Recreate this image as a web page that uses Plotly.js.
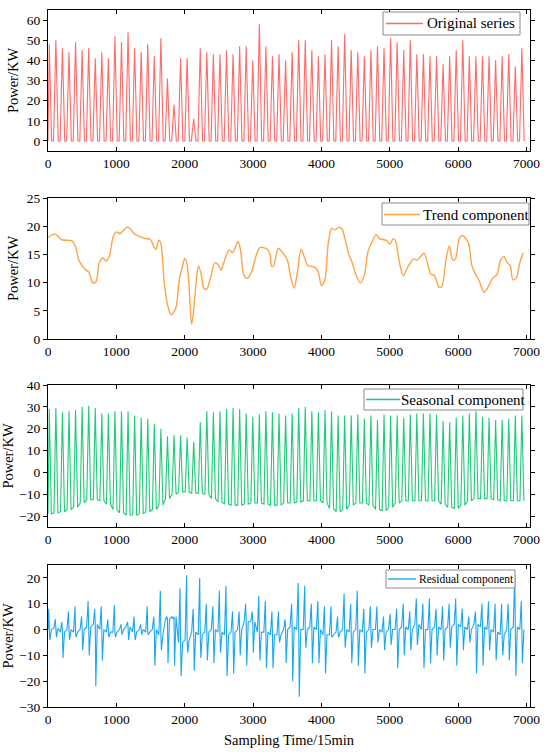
<!DOCTYPE html>
<html>
<head>
<meta charset="utf-8">
<script src="https://cdn.plot.ly/plotly-3.0.1.min.js"></script>
<style>html,body{margin:0;padding:0;background:#fff;}#chart{width:550px;height:756px;}</style>
</head>
<body>
<div id="chart"></div>
<script>
// ---- Data (one value per daily cycle, 96 samples/day) ----
const seriesNames = ['Original series', 'Trend component', 'Seasonal component', 'Residual component'];
const seriesColors = ['#ff6a6a', '#ffa347', '#1ecb78', '#1aa7f2'];

const originalPeaks = [48,50,46,44,49,45,46,41,44,41,52,49,54,46,44,48,42,51,31,18,41,41,11,46,44,43,43,45,43,47,47,40,58,47,42,43,40,44,50,50,45,42,43,50,47,53,45,44,42,45,47,46,51,49,45,50,43,43,42,42,38,42,45,50,42,42,42,42,40,42,43,37,46];

const trendX = [0,100,200,300,350,400,450,500,550,600,650,700,750,800,850,900,950,1000,1050,1100,1150,1200,1250,1300,1400,1500,1550,1580,1620,1650,1700,1750,1800,1850,1880,1920,1970,2000,2030,2060,2100,2130,2170,2200,2240,2280,2320,2380,2440,2500,2530,2570,2650,2700,2780,2820,2850,2880,2920,2980,3050,3100,3200,3250,3270,3300,3330,3370,3420,3500,3550,3600,3650,3700,3750,3800,3850,3900,3950,4000,4050,4100,4150,4200,4250,4300,4350,4400,4450,4500,4570,4630,4680,4750,4800,4850,4950,5000,5050,5080,5150,5200,5250,5300,5350,5400,5500,5550,5600,5650,5720,5760,5820,5870,5920,5960,6020,6070,6150,6200,6250,6300,6380,6450,6500,6570,6620,6670,6720,6760,6800,6850,6900,6950];
const trendY = [18.0,18.6,17.6,17.5,17.4,16.5,14.0,13.0,12.3,11.8,10.0,10.1,13.5,14.4,13.8,14.8,18.0,19.0,18.7,19.2,19.8,19.6,18.8,18.4,17.9,17.6,16.3,15.9,17.5,17.0,10.0,6.0,4.3,5.0,6.0,10.5,13.0,14.3,13.5,10.0,2.6,5.0,10.5,13.0,11.5,9.0,8.8,11.0,13.5,13.0,12.2,13.5,15.8,15.3,17.3,15.5,12.0,11.0,10.8,12.0,15.0,16.2,16.0,15.0,12.9,13.0,14.5,16.1,15.5,14.0,11.0,9.0,12.0,15.9,14.5,13.0,12.9,12.7,12.0,9.5,10.5,17.0,19.6,19.4,19.8,19.5,17.5,15.0,13.5,11.5,9.9,11.5,15.5,17.5,18.5,17.8,17.5,16.8,17.8,17.5,13.0,11.2,12.5,13.5,14.2,14.0,15.2,13.5,11.5,11.3,9.2,9.3,14.0,16.5,14.0,14.2,18.0,18.3,17.0,13.0,11.5,10.5,8.3,9.5,10.7,11.5,14.0,14.6,13.5,13.0,10.5,10.8,13.5,15.3];

const seasonalPeaks = [29,29.5,27.5,28,28.5,30,30.5,29.5,27,27,28,28,28,26,25,24.5,22,20,16.5,17,17,16,14,23,28,27.5,28,29,29.5,29,27,25.5,26.5,28,27.5,27,26,27,29.5,30,28,27.5,28.5,28,26,26,26,26.5,24.5,26,24,26.5,26,26,25,26.5,27,27,27,26.5,23.5,23,25,26,27,28,25.5,25,24,24,24.5,26,26];
const seasonalTroughs = [-19,-18.5,-18,-17,-16,-14,-12.5,-12.5,-13,-14.5,-17,-18.5,-19.5,-19.5,-19,-18,-17,-15,-12,-10,-9,-9,-9.5,-9.5,-10,-12,-13.5,-14.5,-15,-15,-14.5,-14,-14,-14.5,-15,-15,-14,-14,-13.5,-13,-13,-13,-14,-16.5,-18,-17,-15,-14,-14,-15,-17,-17.5,-16,-14,-13,-13,-13,-13,-13,-13,-14.5,-16,-16.5,-15,-13,-12,-12,-12,-12.5,-13,-13,-13,-13];

const residualHigh = [8,4,3,7,9,5,11,8,9,4,9.5,2,3,5,2,9,5,15,5,4,16,21,8,20,10,9,15,17,7,7,10,7,13,11,7,7,4,10,18,17,10,11,9,9,5,14,10,15,8,9,9,5,6,8,10,7,12,10,12,8,9,10,12,8,5,7,10,11,10,10,10,21,11];
const residualLow = [-4,-3,-11,-4,-3,-8,-10,-22,-12,-3,-3,-2,-4,-4,-2,-2,-14,-8,-13,-14,-18,-9,-16,-11,-12,-13,-9,-18,-17,-10,-14,-9,-12,-15,-15,-5,-13,-20,-26,-7,-13,-13,-17,-3,-3,-7,-13,-14,-17,-7,-5,-8,-6,-15,-10,-8,-6,-15,-13,-10,-12,-7,-14,-8,-5,-17,-14,-8,-12,-10,-12,-18,-13];
const residualBase = [0,0.5,-1,0,-1,0,1,2,0,-1,-1,0,1,-1,0,-1,0,-2,4,5,-5,-4,-1,-2,-1,0,-1,-2,-1,0,3,3,-1,-1,-2,-2,0,1,0,0,1,0,-2,-2,-1,0,-1,0,-1,0,0,-1,0,0,1,0,2,0,0,1,0,1,2,1,0,2,1,0,-1,-2,0,1,0];

const xTicks = [0,1000,2000,3000,4000,5000,6000,7000];

// ---- Build traces (sample positions: cycle k centred at 19 + 96k) ----
const cycleStart = 19, cycleLen = 96;
function center(k){ return cycleStart + cycleLen * k; }

const ox = [0], oy = [0];
originalPeaks.forEach((p, k) => {
  const c = center(k);
  if (c - 34 > 0) { ox.push(c - 34); oy.push(0); }
  ox.push(c); oy.push(p);
  ox.push(c + 34); oy.push(0);
});

const sx = [], sy = [];
seasonalPeaks.forEach((p, k) => {
  const c = center(k);
  sx.push(Math.max(0, c - 28)); sy.push(seasonalTroughs[k]);
  sx.push(c); sy.push(p);
  sx.push(c + 30); sy.push(seasonalTroughs[k]);
});

const rx = [], ry = [];
residualHigh.forEach((h, k) => {
  const c = center(k);
  rx.push(Math.max(0, c - 30)); ry.push(residualBase[k]);
  rx.push(c - 8); ry.push(h);
  rx.push(c); ry.push(residualBase[k]);
  rx.push(c + 8); ry.push(residualLow[k]);
  rx.push(c + 30); ry.push(residualBase[k]);
});

const FONT = 'Liberation Serif, Times New Roman, serif';

const traces = [
  {x: ox, y: oy, type: 'scatter', mode: 'lines', name: seriesNames[0],
   line: {color: seriesColors[0], width: 1.1, simplify: false}, xaxis: 'x', yaxis: 'y'},
  {x: trendX, y: trendY, type: 'scatter', mode: 'lines', name: seriesNames[1],
   line: {color: seriesColors[1], width: 1.4, shape: 'spline', smoothing: 0.8}, xaxis: 'x2', yaxis: 'y2'},
  {x: sx, y: sy, type: 'scatter', mode: 'lines', name: seriesNames[2],
   line: {color: seriesColors[2], width: 1.1, simplify: false}, xaxis: 'x3', yaxis: 'y3'},
  {x: rx, y: ry, type: 'scatter', mode: 'lines', name: seriesNames[3],
   line: {color: seriesColors[3], width: 1.1, simplify: false}, xaxis: 'x4', yaxis: 'y4'}
];

function xa(anchor, title) {
  const a = {
    anchor: anchor, domain: [0, 1], range: [0, 7050],
    tickvals: xTicks, ticktext: xTicks.map(String),
    ticks: 'inside', ticklen: 4, tickcolor: '#000',
    showline: true, linecolor: '#000', linewidth: 1, mirror: 'ticks',
    showgrid: false, zeroline: false,
    tickfont: {family: FONT, size: 13.5, color: '#000'}, automargin: false
  };
  if (title) a.title = {text: title, font: {family: FONT, size: 14.5, color: '#000'}, standoff: 8};
  return a;
}
function ya(anchor, dom, range, dtick, tick0) {
  return {
    anchor: anchor, domain: dom, range: range, dtick: dtick, tick0: tick0,
    ticks: 'outside', ticklen: 4, tickcolor: '#000',
    showline: true, linecolor: '#000', linewidth: 1, mirror: 'ticks',
    showgrid: false, zeroline: false,
    tickfont: {family: FONT, size: 13.5, color: '#000'}, automargin: false,
    title: {text: 'Power/KW', font: {family: FONT, size: 14.5, color: '#000'}, standoff: 4}
  };
}
const W0 = 48, PW = 482, H = 756;
function dom(top, bottom){ return [1 - bottom / H, 1 - top / H]; }
function px(x){ return (x - W0) / PW; }
function py(y){ return 1 - y / H; }

// Per-panel legend boxes (box left/right/top/bottom, sample line x0/x1, text x, centre y, font size) in page pixels
const legendBoxes = [
  {l: 383, r: 520, t: 12, b: 35, lx0: 386, lx1: 423, tx: 425, cy: 23.5, fs: 15},
  {l: 382, r: 529, t: 203, b: 225, lx0: 384, lx1: 420, tx: 421, cy: 214.5, fs: 15},
  {l: 364, r: 523, t: 389, b: 410, lx0: 366, lx1: 400, tx: 399, cy: 399.5, fs: 15},
  {l: 386, r: 515, t: 570, b: 588, lx0: 388, lx1: 416, tx: 417, cy: 579, fs: 11.5}
];
const shapes = [], annotations = [];
legendBoxes.forEach((b, i) => {
  shapes.push({type: 'rect', xref: 'paper', yref: 'paper', x0: px(b.l), x1: px(b.r), y0: py(b.b), y1: py(b.t),
    line: {color: '#8a8a8a', width: 1}, fillcolor: '#fff', layer: 'above'});
  shapes.push({type: 'line', xref: 'paper', yref: 'paper', x0: px(b.lx0), x1: px(b.lx1), y0: py(b.cy), y1: py(b.cy),
    line: {color: seriesColors[i], width: 1.4}, layer: 'above'});
  annotations.push({xref: 'paper', yref: 'paper', x: px(b.tx), y: py(b.cy), xanchor: 'left', yanchor: 'middle',
    text: seriesNames[i], showarrow: false, font: {family: FONT, size: b.fs, color: '#000'}});
});

const layout = {
  width: 550, height: 756,
  margin: {l: 48, r: 20, t: 0, b: 0},
  paper_bgcolor: '#fff', plot_bgcolor: '#fff',
  font: {family: FONT, color: '#000'},
  showlegend: false,
  xaxis: xa('y'), yaxis: ya('x', dom(10, 151), [-5, 65], 10, 0),
  xaxis2: xa('y2'), yaxis2: ya('x2', dom(198, 339), [0, 25], 5, 0),
  xaxis3: xa('y3'), yaxis3: ya('x3', dom(385, 527), [-25, 40], 10, -20),
  xaxis4: xa('y4', 'Sampling Time/15min'), yaxis4: ya('x4', dom(565, 707), [-30, 25], 10, -30),
  shapes: shapes,
  annotations: annotations
};

Plotly.newPlot('chart', traces, layout, {displayModeBar: false, staticPlot: true});
</script>
</body>
</html>
